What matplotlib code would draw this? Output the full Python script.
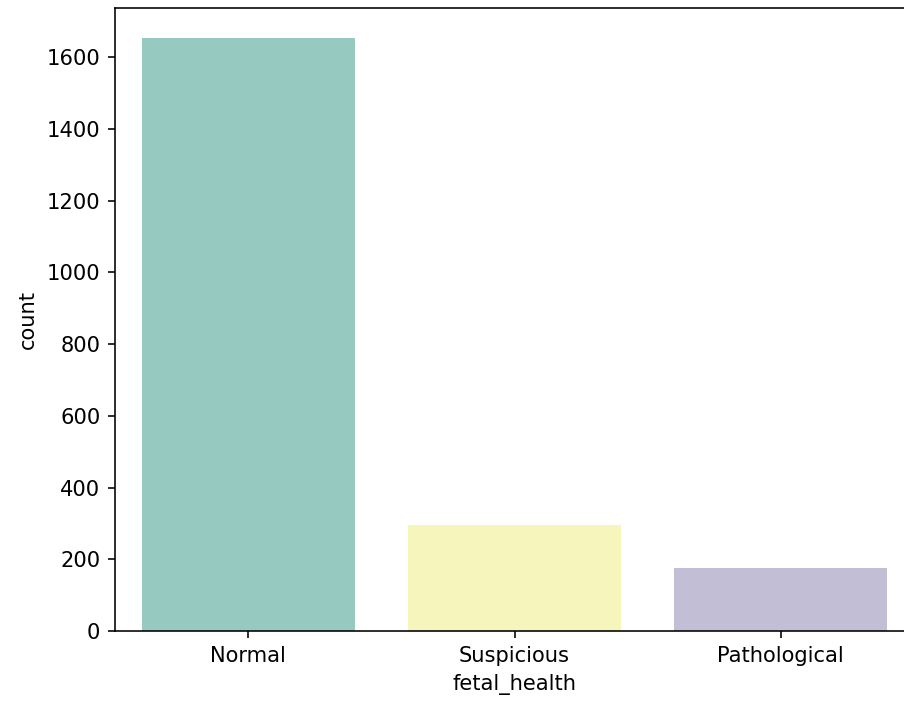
import matplotlib
matplotlib.use("Agg")
import matplotlib.pyplot as plt
import seaborn as sns

categories = ["Normal", "Suspicious", "Pathological"]
counts = [1655, 295, 176]

colors = sns.color_palette("Set3", 3, desat=0.75)

scale = 1.05
plt.rcParams.update({
    "font.size": 10 * scale,
    "xtick.major.size": 3.5 * scale,
    "ytick.major.size": 3.5 * scale,
    "xtick.major.pad": 3.5 * scale,
    "ytick.major.pad": 3.5 * scale,
    "axes.labelpad": 4 * scale,
})

fig = plt.figure(figsize=(904 / 144, 704 / 144), dpi=144)
# right spine falls just outside the picture, as in the cropped original
ax = fig.add_axes([115 / 904, 1 - 631 / 704, 799 / 904, 623 / 704])
ax.bar(categories, counts, color=colors, width=0.8)
ax.set_xlim(-0.5, 2.5)
ax.set_ylim(0, max(counts) * 1.05)
ax.set_xlabel("fetal_health")
ax.set_ylabel("count")

fig.savefig("out.png", dpi=144)
